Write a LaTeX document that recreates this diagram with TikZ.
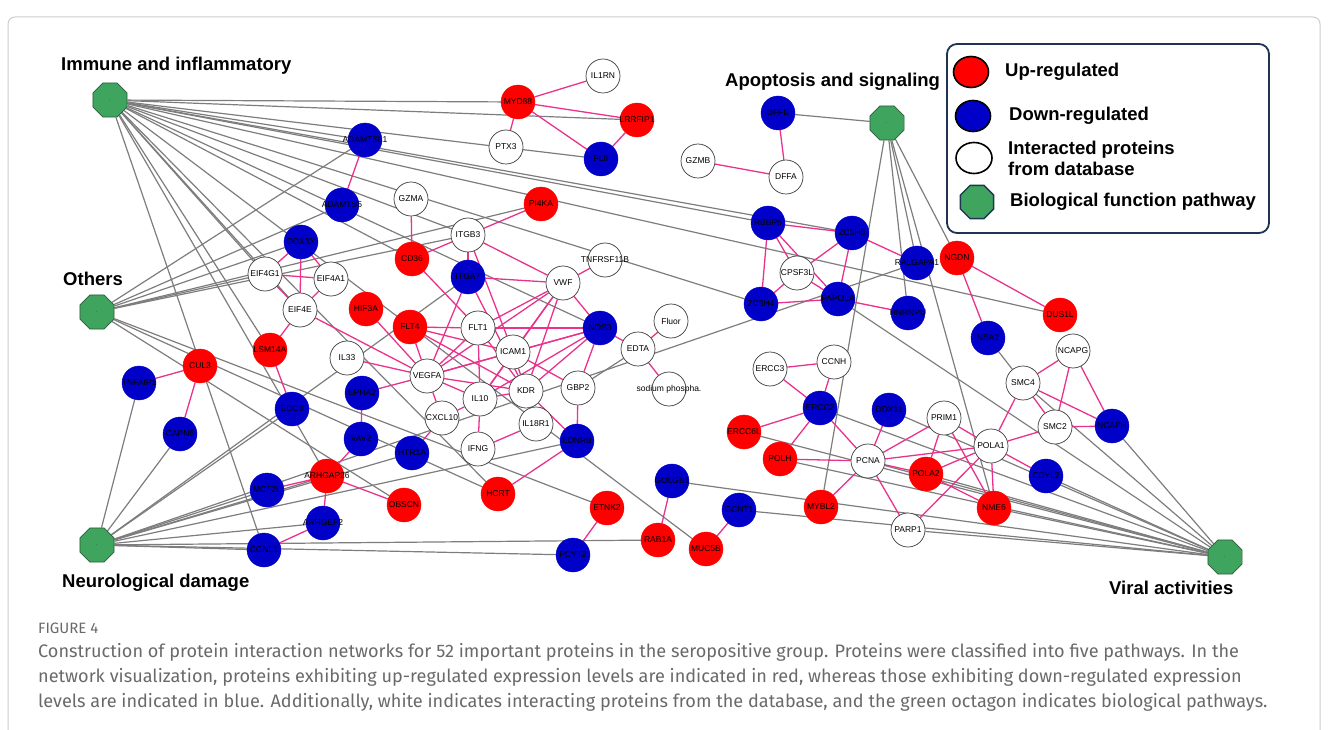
\documentclass[tikz,border=0pt]{standalone}
\usepackage{fontspec}
\setmainfont{Liberation Sans}
\newfontfamily\capfont{Fira Sans}
\usetikzlibrary{shapes.geometric}
\pgfdeclarelayer{bg}
\pgfsetlayers{bg,main}
\definecolor{upred}{RGB}{255,0,0}
\definecolor{downblue}{RGB}{0,0,200}
\definecolor{pwgreen}{RGB}{62,164,94}
\definecolor{pwborder}{RGB}{45,90,60}
\definecolor{edgegray}{RGB}{125,125,125}
\definecolor{edgepink}{RGB}{234,50,140}
\definecolor{nodeborder}{RGB}{60,60,60}
\definecolor{navy}{RGB}{30,52,82}
\definecolor{framegray}{RGB}{205,205,205}
\definecolor{capgray}{RGB}{105,105,105}
\tikzset{
  prot/.style={circle, minimum size=34pt, inner sep=0pt, font=\fontsize{8.5}{9}\selectfont,
    execute at begin node={\hbox to 0pt\bgroup\hss}, execute at end node={\hss\egroup}},
  upn/.style={prot, fill=upred, draw=upred},
  downn/.style={prot, fill=downblue, draw=downblue},
  dbn/.style={prot, fill=white, draw=nodeborder, line width=0.7pt},
  pathwayn/.style={regular polygon, regular polygon sides=8, minimum size=37pt, inner sep=0pt, fill=pwgreen, draw=pwborder, line width=0.7pt, font=\fontsize{4}{4}\selectfont},
  gl/.style={draw=edgegray, line width=1.2pt},
  pl/.style={draw=edgepink, line width=1.3pt},
  heading/.style={anchor=west, inner sep=0pt, font=\fontsize{18.5}{20}\selectfont\bfseries},
  legtext/.style={anchor=west, inner sep=0pt, align=left, font=\fontsize{18.5}{21}\selectfont\bfseries},
  legell/.style={ellipse, draw=black, line width=1.6pt, minimum width=35pt, minimum height=31pt, inner sep=0pt},
  captext/.style={anchor=west, inner sep=0pt, text=capgray, font=\capfont\fontsize{18.1}{20}\selectfont},
}
\begin{document}
\begin{tikzpicture}[x=1pt,y=-1pt]
\useasboundingbox (0,0) rectangle (1328,730);
% frame
\draw[framegray, line width=1pt, rounded corners=7pt] (8,740) -- (8,17) -- (1320,17) -- (1320,740);

% pathway octagons
\node[pathwayn] (imm) at (110,100) {.};
\node[pathwayn] (oth) at (97,312) {.};
\node[pathwayn] (neu) at (97,545) {.};
\node[pathwayn] (apo) at (887,123) {.};
\node[pathwayn] (vir) at (1225,557) {.};

% headings
\node[heading] (tImm) at (61,66) {Immune and inflammatory};
\node[heading] (tOth) at (63,279) {Others};
\node[heading] (tNeu) at (62,583) {Neurological damage};
\node[heading] (tApo) at (725,82) {Apoptosis and signaling};
\node[heading] (tVir) at (1109,588) {Viral activities};

% up-regulated
\node[upn] (MYD88) at (518,102) {MYD88};
\node[upn] (LRRFIP1) at (637,120) {LRRFIP1};
\node[upn] (PI4KA) at (541,204) {PI4KA};
\node[upn] (CD36) at (412,259) {CD36};
\node[upn] (HIF3A) at (366,309) {HIF3A};
\node[upn] (FLT4) at (410,327) {FLT4};
\node[upn] (LSM14A) at (270,350) {LSM14A};
\node[upn] (CUL3) at (200,366) {CUL3};
\node[upn] (ARHGAP26) at (327,476) {ARHGAP26};
\node[upn] (OBSCN) at (404,505) {OBSCN};
\node[upn] (HCRT) at (498,494) {HCRT};
\node[upn] (ETNK2) at (607,508) {ETNK2};
\node[upn] (RAB1A) at (658,540) {RAB1A};
\node[upn] (MUC5B) at (706,549) {MUC5B};
\node[upn] (NGDN) at (957,258) {NGDN};
\node[upn] (DUS1L) at (1060,315) {DUS1L};
\node[upn] (ERCC6L) at (744,432) {ERCC6L};
\node[upn] (POLH) at (780,459) {POLH};
\node[upn] (MYBL2) at (821,507) {MYBL2};
\node[upn] (POLA2) at (926,474) {POLA2};
\node[upn] (NME6) at (994,508) {NME6};

% down-regulated
\node[downn] (ADAMTSL1) at (365,140) {ADAMTSL1};
\node[downn] (ADAMTS5) at (342,205) {ADAMTS5};
\node[downn] (DDX3X) at (301,242) {DDX3X};
\node[downn] (FLII) at (601,159) {FLII};
\node[downn] (DFFB) at (778,113) {DFFB};
\node[downn] (ITGA7) at (468,277) {ITGA7};
\node[downn] (NOS3) at (600,328) {NOS3};
\node[downn] (TNFAIP1) at (139,383) {TNFAIP1};
\node[downn] (CAPN6) at (180,434) {CAPN6};
\node[downn] (EDC3) at (292,409) {EDC3};
\node[downn] (EPHA2) at (362,393) {EPHA2};
\node[downn] (VAV2) at (361,439) {VAV2};
\node[downn] (HTR1A) at (412,453) {HTR1A};
\node[downn] (MCF2L) at (267,490) {MCF2L};
\node[downn] (ARHGEF2) at (323,523) {ARHGEF2};
\node[downn] (CGNL1) at (264,550) {CGNL1};
\node[downn] (EDNRB) at (577,441) {EDNRB};
\node[downn] (GOLGB1) at (672,481) {GOLGB1};
\node[downn] (GCNT1) at (739,510) {GCNT1};
\node[downn] (PCYT2) at (573,555) {PCYT2};
\node[downn] (RBBP6) at (768,223) {RBBP6};
\node[downn] (ZC3H6) at (852,233) {ZC3H6};
\node[downn] (ZC3H4) at (761,304) {ZC3H4};
\node[downn] (PAPOLA) at (838,299) {PAPOLA};
\node[downn] (RALGAPA1) at (917,263) {RALGAPA1};
\node[downn] (HNRNPU) at (908,313) {HNRNPU};
\node[downn] (NSA2) at (988,338) {NSA2};
\node[downn] (ERCC2) at (820,408) {ERCC2};
\node[downn] (DDX11) at (889,410) {DDX11};
\node[downn] (CDYL2) at (1046,476) {CDYL2};
\node[downn] (NCAPH) at (1112,426) {NCAPH};

% database proteins
\node[dbn] (IL1RN) at (603,76) {IL1RN};
\node[dbn] (PTX3) at (506,147) {PTX3};
\node[dbn] (GZMB) at (698,161) {GZMB};
\node[dbn] (DFFA) at (786,177) {DFFA};
\node[dbn] (GZMA) at (411,199) {GZMA};
\node[dbn] (ITGB3) at (468,235) {ITGB3};
\node[dbn] (TNFRSF11B) at (605,260) {TNFRSF11B};
\node[dbn] (VWF) at (563,283) {VWF};
\node[dbn] (EIF4G1) at (265,274) {EIF4G1};
\node[dbn] (EIF4A1) at (331,279) {EIF4A1};
\node[dbn] (EIF4E) at (300,310) {EIF4E};
\node[dbn] (IL33) at (347,358) {IL33};
\node[dbn] (VEGFA) at (427,376) {VEGFA};
\node[dbn] (FLT1) at (478,328) {FLT1};
\node[dbn] (ICAM1) at (513,352) {ICAM1};
\node[dbn] (KDR) at (526,391) {KDR};
\node[dbn] (GBP2) at (578,388) {GBP2};
\node[dbn] (IL10) at (480,399) {IL10};
\node[dbn] (CXCL10) at (442,418) {CXCL10};
\node[dbn] (IL18R1) at (536,424) {IL18R1};
\node[dbn] (IFNG) at (478,449) {IFNG};
\node[dbn] (Fluor) at (671,321) {Fluor};
\node[dbn] (EDTA) at (638,349) {EDTA};
\node[dbn] (sodium) at (669,389) {sodium phospha.};
\node[dbn] (CPSF3L) at (797,273) {CPSF3L};
\node[dbn] (ERCC3) at (770,369) {ERCC3};
\node[dbn] (CCNH) at (834,362) {CCNH};
\node[dbn] (NCAPG) at (1073,351) {NCAPG};
\node[dbn] (SMC4) at (1023,383) {SMC4};
\node[dbn] (SMC2) at (1055,427) {SMC2};
\node[dbn] (PRIM1) at (944,418) {PRIM1};
\node[dbn] (POLA1) at (991,446) {POLA1};
\node[dbn] (PCNA) at (868,461) {PCNA};
\node[dbn] (PARP1) at (908,530) {PARP1};

\begin{pgfonlayer}{bg}
% pathway edges (gray)
\foreach \b in {MYD88,LRRFIP1,FLII,RBBP6,ZC3H6,DUS1L,ZC3H4,ADAMTSL1,ITGB3,NOS3,CD36,MUC5B,HCRT,EIF4E,EIF4G1,LSM14A,ARHGAP26,CGNL1}
  \draw[gl] (imm) -- (\b);
\foreach \b in {ADAMTSL1,ADAMTS5,DDX3X,EIF4G1,PI4KA,ITGB3,OBSCN,HCRT,ETNK2}
  \draw[gl] (oth) -- (\b);
\foreach \b in {TNFAIP1,CAPN6,EDC3,ITGA7,MCF2L,ARHGAP26,HTR1A,RALGAPA1,EDNRB,ARHGEF2,CGNL1,PCYT2,RAB1A}
  \draw[gl] (neu) -- (\b);
\foreach \b in {DFFB,MYBL2,HNRNPU,RALGAPA1,NME6,NGDN}
  \draw[gl] (apo) -- (\b);
\foreach \b in {NCAPH,SMC4,PAPOLA,DDX11,ERCC2,CDYL2,POLA2,NME6,ERCC6L,POLH,PCNA,GOLGB1,GCNT1,PARP1}
  \draw[gl] (vir) -- (\b);
\draw[gl] (NSA2) -- (SMC4);
\draw[gl] (GBP2) -- (EDTA);
% protein interactions (pink)
\foreach \a/\b in {MYD88/IL1RN,MYD88/LRRFIP1,MYD88/PTX3,MYD88/FLII,LRRFIP1/FLII,DFFB/DFFA,GZMB/DFFA,ADAMTSL1/ADAMTS5,GZMA/CD36,CD36/ITGB3,PI4KA/ITGB3,
  DDX3X/EIF4G1,DDX3X/EIF4A1,DDX3X/EIF4E,EIF4G1/EIF4A1,EIF4G1/EIF4E,EIF4A1/EIF4E,EIF4E/LSM14A,LSM14A/EDC3,
  EIF4E/VEGFA,HIF3A/VEGFA,FLT4/VEGFA,IL33/VEGFA,EPHA2/VEGFA,CD36/FLT1,ITGB3/ITGA7,ITGB3/VWF,ITGB3/ICAM1,ITGA7/VEGFA,ITGA7/KDR,ITGA7/VWF,
  VWF/TNFRSF11B,VWF/NOS3,VWF/FLT1,VWF/ICAM1,VWF/VEGFA,VWF/KDR,VWF/IL10,
  FLT4/FLT1,FLT1/NOS3,FLT4/KDR,FLT4/ICAM1,FLT1/VEGFA,FLT1/KDR,FLT1/IL10,
  VEGFA/ICAM1,VEGFA/NOS3,VEGFA/KDR,VEGFA/IL10,VEGFA/CXCL10,
  ICAM1/NOS3,ICAM1/KDR,ICAM1/IL10,ICAM1/GBP2,NOS3/KDR,NOS3/IL10,NOS3/GBP2,GBP2/EDNRB,NOS3/EDTA,EDTA/Fluor,EDTA/sodium,
  KDR/EDNRB,KDR/IL10,IL10/CXCL10,IL10/IFNG,IFNG/IL18R1,EDNRB/HCRT,CXCL10/HTR1A,
  EPHA2/VAV2,VAV2/ARHGAP26,ARHGAP26/MCF2L,ARHGAP26/OBSCN,ARHGAP26/ARHGEF2,ARHGEF2/CGNL1,CUL3/TNFAIP1,CUL3/CAPN6,
  GOLGB1/RAB1A,ETNK2/PCYT2,MUC5B/GCNT1,
  RBBP6/ZC3H6,RBBP6/ZC3H4,RBBP6/CPSF3L,RBBP6/PAPOLA,ZC3H6/CPSF3L,ZC3H6/PAPOLA,ZC3H6/RALGAPA1,CPSF3L/ZC3H4,CPSF3L/PAPOLA,ZC3H4/PAPOLA,PAPOLA/HNRNPU,NGDN/DUS1L,NGDN/NSA2,
  NCAPG/SMC4,NCAPG/SMC2,NCAPG/NCAPH,SMC4/SMC2,SMC4/NCAPH,SMC2/NCAPH,SMC4/POLA1,SMC2/POLA1,POLA1/PRIM1,POLA1/PCNA,POLA1/POLA2,POLA1/NME6,POLA1/PARP1,POLA1/CDYL2,
  PRIM1/PCNA,PRIM1/POLA2,PRIM1/NME6,PCNA/DDX11,PCNA/POLH,PCNA/POLA2,PCNA/MYBL2,PCNA/PARP1,PCNA/ERCC2,POLA2/NME6,
  ERCC2/CCNH,ERCC2/ERCC3,ERCC3/CCNH,ERCC2/ERCC6L,ERCC2/POLH}
  \draw[pl] (\a) -- (\b);
\end{pgfonlayer}

% legend
\draw[navy, line width=1.8pt, rounded corners=10pt] (947,44) rectangle (1269,233);
\node[legell, fill=upred] (lgUp) at (971,72) {};
\node[legtext] (ltUp) at (1005,72) {Up-regulated};
\node[legell, fill=downblue] (lgDown) at (973,116) {};
\node[legtext] (ltDown) at (1009,116) {Down-regulated};
\node[legell, fill=white, minimum width=36pt] (lgDb) at (974,158) {};
\node[legtext] (ltDb) at (1008,158) {Interacted proteins\\from database};
\node[regular polygon, regular polygon sides=8, minimum size=36pt, inner sep=0pt, fill=pwgreen, draw=navy, line width=1.4pt] (lgPw) at (977,202) {};
\node[legtext] (ltPw) at (1010,202) {Biological function pathway};

% caption
\node[captext, font=\capfont\fontsize{15}{16}\selectfont] (capHead) at (38,628) {FIGURE 4};
\node[captext] (cap1) at (38,652) {Construction of protein interaction networks for 52 important proteins in the seropositive group. Proteins were classified into five pathways. In the};
\node[captext] (cap2) at (38,677) {network visualization, proteins exhibiting up-regulated expression levels are indicated in red, whereas those exhibiting down-regulated expression};
\node[captext] (cap3) at (38,702) {levels are indicated in blue. Additionally, white indicates interacting proteins from the database, and the green octagon indicates biological pathways.};
\end{tikzpicture}
\end{document}
